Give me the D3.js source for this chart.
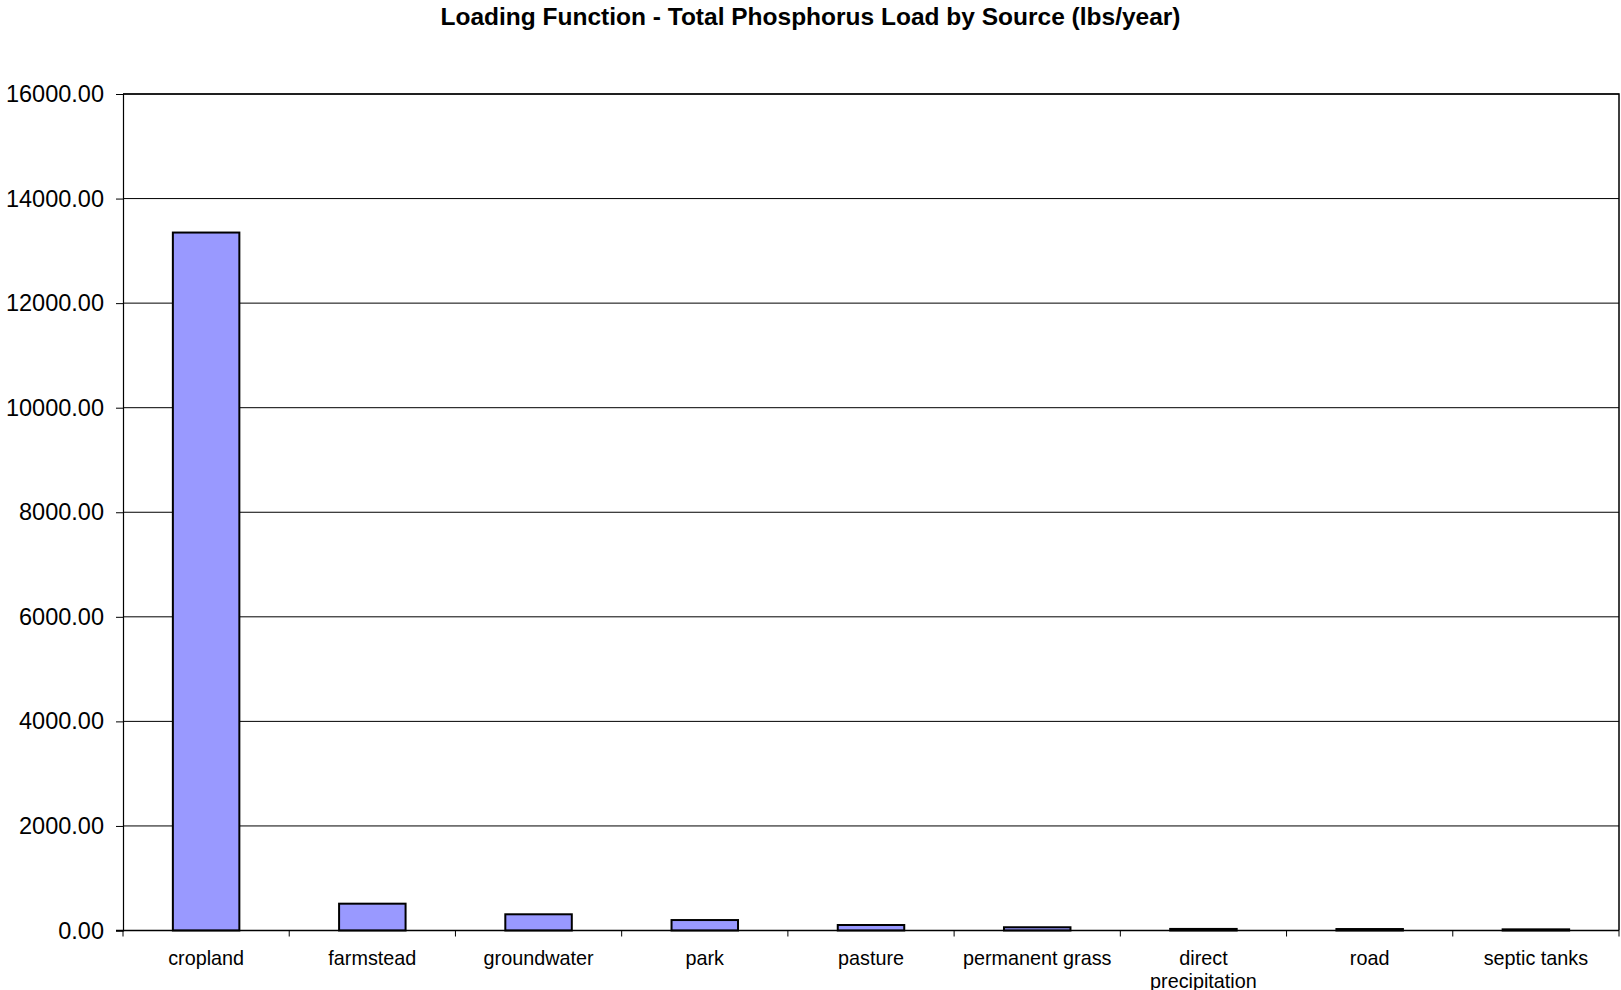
<!DOCTYPE html>
<html>
<head>
<meta charset="utf-8">
<script src="https://cdn.jsdelivr.net/npm/d3@7"></script>
<style>
  html, body { margin: 0; padding: 0; background: #ffffff; }
  svg { display: block; font-family: "Liberation Sans", Arial, sans-serif; }
</style>
</head>
<body>
<svg id="chart" width="1621" height="990"></svg>
<script>
// Total phosphorus load per source, lbs/year
const categories = ["cropland", "farmstead", "groundwater", "park", "pasture",
  "permanent grass", "direct precipitation", "road", "septic tanks"];
const loads = [13350, 513, 310, 200, 105, 62, 30, 28, 22];
const yTicks = [0, 2000, 4000, 6000, 8000, 10000, 12000, 14000, 16000];
const titleText = "Loading Function - Total Phosphorus Load by Source (lbs/year)";

const W = 1621, H = 990;
const margin = { top: 94, right: 2, bottom: 60, left: 123 };
const plotW = W - margin.left - margin.right;
const plotH = 930.5 - margin.top;

const svg = d3.select("#chart");

svg.append("text")
  .attr("x", W / 2)
  .attr("y", 25)
  .attr("text-anchor", "middle")
  .attr("font-weight", "bold")
  .attr("font-size", 24.5)
  .attr("fill", "#000")
  .text(titleText);

const g = svg.append("g").attr("transform", `translate(${margin.left},${margin.top})`);

const x = d3.scaleBand()
  .domain(categories)
  .range([0, plotW])
  .paddingInner(0.6)
  .paddingOuter(0.3);

const y = d3.scaleLinear()
  .domain([0, 16000])
  .range([plotH, 0]);

// horizontal gridlines
g.append("g")
  .selectAll("line")
  .data(yTicks.filter(t => t > 0))
  .join("line")
  .attr("x1", 0).attr("x2", plotW)
  .attr("y1", d => y(d)).attr("y2", d => y(d))
  .attr("stroke", "#000")
  .attr("stroke-width", 1);

// plot frame (top and right)
g.append("path")
  .attr("d", `M0,${y(16000)}H${plotW}V${plotH}`)
  .attr("fill", "none")
  .attr("stroke", "#000")
  .attr("stroke-width", 1.5);

// bars
g.append("g")
  .selectAll("rect")
  .data(categories.map((c, i) => ({ c, v: loads[i] })))
  .join("rect")
  .attr("x", d => x(d.c))
  .attr("width", x.bandwidth())
  .attr("y", d => y(d.v))
  .attr("height", d => y(0) - y(d.v))
  .attr("fill", "#9999ff")
  .attr("stroke", "#000")
  .attr("stroke-width", 2);

// y axis
const yAxis = d3.axisLeft(y)
  .tickValues(yTicks)
  .tickFormat(d3.format(".2f"))
  .tickSize(7)
  .tickPadding(12);
const yg = g.append("g").call(yAxis);
yg.select(".domain").attr("stroke", "#000").attr("stroke-width", 1.2);
yg.selectAll(".tick line").attr("stroke", "#000");
yg.selectAll(".tick text")
  .attr("font-size", 23.5)
  .attr("font-family", "Liberation Sans, Arial, sans-serif")
  .attr("fill", "#000");

// x axis baseline with ticks at category boundaries
const step = x.step();
const boundaries = d3.range(categories.length + 1).map(i => i === categories.length
  ? x(categories[i - 1]) + x.bandwidth() / 2 + step / 2
  : x(categories[i]) + x.bandwidth() / 2 - step / 2);

g.append("line")
  .attr("x1", -7).attr("x2", plotW)
  .attr("y1", plotH).attr("y2", plotH)
  .attr("stroke", "#000").attr("stroke-width", 1.5);

g.append("g")
  .selectAll("line")
  .data(boundaries)
  .join("line")
  .attr("x1", d => d).attr("x2", d => d)
  .attr("y1", plotH).attr("y2", plotH + 6)
  .attr("stroke", "#000").attr("stroke-width", 1);

// category labels, wrapped to the category width
const labels = g.append("g")
  .selectAll("text")
  .data(categories)
  .join("text")
  .attr("x", d => x(d) + x.bandwidth() / 2)
  .attr("y", plotH + 34)
  .attr("text-anchor", "middle")
  .attr("font-size", 19.8)
  .attr("fill", "#000");

labels.each(function(d) {
  const t = d3.select(this);
  const words = d.split(" ");
  let line = [];
  let tspan = t.append("tspan").attr("x", x(d) + x.bandwidth() / 2).attr("dy", 0);
  words.forEach(w => {
    line.push(w);
    tspan.text(line.join(" "));
    if (tspan.node().getComputedTextLength() > step - 8 && line.length > 1) {
      line.pop();
      tspan.text(line.join(" "));
      line = [w];
      tspan = t.append("tspan")
        .attr("x", x(d) + x.bandwidth() / 2)
        .attr("dy", 23)
        .text(w);
    }
  });
});
</script>
</body>
</html>
